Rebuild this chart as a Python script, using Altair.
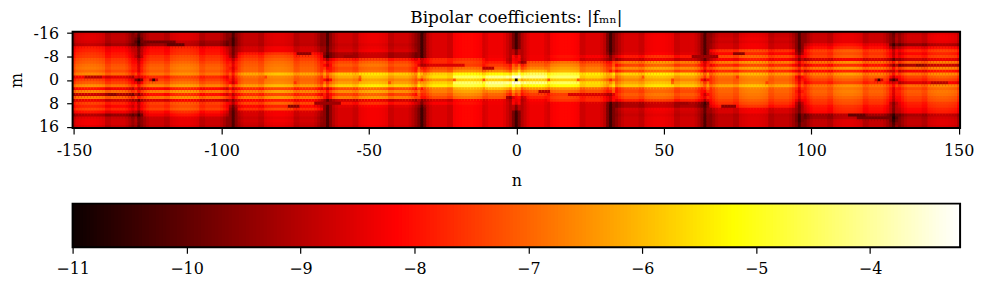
import altair as alt
import numpy as np
import pandas as pd

M = list(range(-16, 17))
FONT = "DejaVu Serif"
VMIN, VMAX = -11.0, -3.21

# log10|f_mn| read per row (m=-16..16), per band of n on the negative side
A  = [-8.75,-8.65,-8.65,-8.75,-9.0,-8.0,-7.9,-7.7,-7.6,-7.3,-7.2,-7.0,-6.9,-7.1,-6.7,-8.3,-7.5,-7.2,-6.6,-8.1,-6.7,-8.9,-6.8,-8.5,-7.5,-7.9,-7.5,-8.1,-9.2,-8.55,-8.45,-8.45,-8.65]
B  = [-8.65,-8.65,-8.65,-9.0,-9.1,-7.9,-7.8,-7.7,-7.4,-7.3,-7.1,-6.9,-6.8,-6.9,-6.6,-7.5,-7.2,-6.9,-6.4,-7.9,-6.5,-7.8,-6.6,-8.4,-7.2,-7.4,-7.2,-7.8,-8.1,-8.55,-8.55,-8.55,-8.65]
C  = [-8.65,-8.65,-8.65,-8.65,-8.7,-8.4,-8.4,-7.7,-7.4,-7.2,-7.0,-6.9,-6.8,-6.8,-6.0,-6.7,-6.8,-6.7,-6.1,-7.5,-6.4,-7.5,-6.5,-8.0,-7.1,-7.9,-7.4,-8.4,-8.4,-8.55,-8.45,-8.55,-8.65]
D  = [-8.5,-8.5,-8.5,-8.5,-8.6,-8.5,-8.4,-8.9,-8.9,-7.6,-7.1,-6.9,-7.1,-7.0,-5.6,-6.0,-6.4,-6.1,-5.5,-7.1,-6.3,-7.2,-6.5,-8.5,-7.7,-8.3,-8.4,-8.4,-8.4,-8.4,-8.4,-8.4,-8.5]
E1 = [-8.35,-8.35,-8.35,-8.35,-8.35,-8.35,-8.35,-8.35,-8.35,-7.5,-7.5,-8.2,-7.0,-6.8,-5.5,-5.4,-6.2,-5.5,-5.2,-6.5,-6.5,-6.8,-7.1,-8.4,-8.0,-8.35,-8.35,-8.35,-8.35,-8.35,-8.35,-8.35,-8.35]
E2 = [-8.25,-8.25,-8.25,-8.25,-8.25,-8.25,-8.25,-8.25,-8.25,-7.7,-7.5,-7.6,-7.0,-6.6,-5.3,-4.6,-5.9,-4.5,-4.9,-6.2,-6.4,-6.7,-7.0,-8.2,-8.1,-8.25,-8.25,-8.25,-8.25,-8.25,-8.25,-8.25,-8.25]
E3 = [-8.15,-8.15,-8.15,-8.15,-8.15,-8.15,-8.15,-8.15,-8.1,-8.0,-7.6,-7.3,-6.9,-6.3,-5.0,-3.9,-5.6,-3.8,-4.3,-5.8,-6.4,-6.8,-7.0,-8.1,-8.1,-8.15,-8.15,-8.15,-8.15,-8.15,-8.15,-8.15,-8.15]
E4 = [-8.15,-8.15,-8.15,-8.15,-8.15,-8.15,-8.15,-8.15,-8.1,-8.2,-8.0,-7.1,-6.8,-6.2,-4.7,-3.4,-5.4,-3.4,-4.2,-5.7,-6.5,-7.0,-8.6,-8.2,-8.1,-8.15,-8.15,-8.15,-8.15,-8.15,-8.15,-8.15,-8.15]

# the dark columns at n = -128, -96, -64, -32, 0
L128 = [-10.0,-10.2,-10.5,-10.8,-10.6,-9.6,-9.6,-9.5,-9.6,-9.0,-8.8,-8.6,-8.5,-8.6,-8.0,-8.7,-10.3,-8.9,-7.9,-8.9,-8.0,-9.6,-7.9,-10.0,-8.8,-9.0,-8.8,-9.6,-10.5,-9.8,-9.7,-9.8,-10.0]
L96  = [-10.2,-10.2,-10.4,-10.4,-10.4,-9.8,-9.8,-9.8,-9.6,-9.0,-8.6,-8.4,-8.6,-8.4,-7.8,-8.4,-8.6,-8.8,-7.5,-8.8,-7.8,-9.0,-8.4,-9.6,-9.0,-9.8,-10.0,-10.2,-10.2,-10.2,-10.2,-10.2,-10.2]
L64  = [-10.2,-10.2,-10.2,-10.2,-10.2,-10.0,-10.0,-10.2,-10.4,-9.2,-8.4,-8.8,-8.2,-7.8,-7.0,-7.6,-8.8,-7.6,-7.0,-8.8,-8.0,-8.6,-8.6,-10.0,-9.8,-10.2,-10.2,-10.2,-10.2,-10.2,-10.2,-10.2,-10.2]
L32  = [-10.4,-10.4,-10.4,-10.4,-10.4,-10.4,-10.4,-10.4,-10.4,-8.8,-8.8,-9.2,-7.8,-7.4,-6.0,-6.6,-7.8,-6.4,-6.0,-8.0,-7.4,-7.8,-8.0,-9.6,-9.6,-10.2,-10.4,-10.4,-10.4,-10.4,-10.4,-10.4,-10.4]
L0   = [-10.4,-10.4,-10.4,-10.4,-10.4,-10.4,-9.6,-9.6,-8.6,-8.4,-8.2,-7.6,-7.0,-6.4,-5.0,-3.5,-10.8,-3.5,-5.0,-6.4,-7.0,-7.6,-8.2,-8.4,-8.6,-9.6,-9.6,-10.4,-10.4,-10.4,-10.4,-10.4,-10.4]

# band limits on the negative side of n, inclusive, with their row lists
BANDS = [(-150, -129, A), (-128, -97, B), (-96, -65, C), (-64, -33, D), (-32, -22, E1), (-21, -11, E2), (-10, -4, E3), (-3, -1, E4)]
DARK = {-128: L128, -96: L96, -64: L64, -32: L32, 0: L0}

# brightness change across one 32-wide period, starting right after a dark column
SHADE = [0.0,-0.9,-0.6,-0.35,-0.2,-0.2,-0.2,-0.2,-0.2,-0.38,-0.38,-0.02,0.05,0.1,0.14,0.15,0.15,0.14,0.1,0.05,-0.02,-0.38,-0.38,-0.2,-0.2,-0.2,-0.2,-0.2,-0.35,-0.6,-0.9,0.0]

# narrow streaks: (m, n from, n to, value)
STREAKS = [(-13,-127,-116,-9.8),(-12,-118,-113,-10.0),(0,-123,-123,-10.5),(0,-124,-124,-8.6),(0,-122,-122,-8.6),(-1,-146,-141,-9.0),(5,-138,-136,-9.5),
           (9,-77,-74,-9.5),(-9,-74,-70,-9.5),(-8,-58,-56,-9.3),(8,-68,-60,-9.3),(-5,-29,-18,-8.6),(-4,-11,-8,-9.0),(0,-1,-1,-5.6),
           (0,-53,-53,-7.4),(-1,-53,-53,-7.0),(1,-43,-43,-7.2),(0,-21,-21,-7.2),(0,-11,-11,-7.3),(1,-75,-75,-7.6),(-1,-85,-85,-7.4)]

rows = {}
for j, m in enumerate(M):
    for lo, hi, band in BANDS:
        for n in range(lo, hi + 1):
            rows[(m, n)] = band[j] + SHADE[(n + 128) % 32]
for j, m in enumerate(M):
    for centre, line in DARK.items():
        rows[(m, centre)] = line[j]
        rows[(m, centre - 1)] = min(rows[(m, centre - 1)], line[j] + 0.7)
        if centre < 0:
            rows[(m, centre + 1)] = min(rows[(m, centre + 1)], line[j] + 0.7)
for m, a, b, v in STREAKS:
    for n in range(a, b + 1):
        rows[(m, n)] = v
cells = []
for (m, n), v in rows.items():
    if n > 0:
        continue
    cells.append((m, n, v))
    if n < 0:
        cells.append((-m, -n, v))  # |f_mn| = |f_-m,-n|
df = pd.DataFrame(cells, columns=["m", "n", "v"]).sort_values(["n", "m"])
# every cell runs on under the next one drawn, so that no seam shows between cells
df["n0"], df["n1"], df["m0"], df["m1"] = df.n - .5, df.n + 1.2, df.m - .5, df.m + 1.2

def hot():
    return alt.Scale(domain=[VMIN, -8.16, -5.2, VMAX], range=["#0b0000", "#ff0000", "#ffff00", "#ffffff"], clamp=True, interpolate="rgb")

frame_df = pd.DataFrame({"f": [0]})
def frame(w, h):
    return alt.Chart(frame_df).mark_rect(fillOpacity=0, stroke="black", strokeWidth=2, opacity=1).encode(
        x=alt.value(0), x2=alt.value(w), y=alt.value(0), y2=alt.value(h))

W = 893
X_TICKS = [-150, -100, -50, 0, 50, 100, 150]
Y_TICKS = [-16, -8, 0, 8, 16]
heat_cells = alt.Chart(df).mark_rect(clip=True, opacity=1).encode(
    x=alt.X("n0:Q", scale=alt.Scale(domain=[-150.5, 150.5], nice=False, zero=False),
            axis=alt.Axis(values=X_TICKS, title="n", labelExpr="'' + datum.value", grid=False, domain=False, labelPadding=9, titlePadding=14)),
    x2="n1:Q",
    y=alt.Y("m0:Q", scale=alt.Scale(domain=[16.5, -16.5], nice=False, zero=False),
            axis=alt.Axis(values=Y_TICKS, title="m", labelExpr="'' + datum.value", grid=False, domain=False, labelPadding=8, titlePadding=9)),
    y2="m1:Q",
    color=alt.Color("v:Q", scale=hot(), legend=None),
)
heat = alt.layer(heat_cells, frame(W, 97)).properties(
    width=W, height=97,
    title=alt.TitleParams("Bipolar coefficients: |fₘₙ|", font=FONT, fontSize=17, fontWeight="normal", color="black", offset=-2))

BAR_TICKS = [-11, -10, -9, -8, -7, -6, -5, -4]
levels = np.linspace(VMIN, VMAX, 257)
bar_df = pd.DataFrame({"a": levels[:-1], "b": levels[1:] + 0.03, "v": (levels[:-1] + levels[1:]) / 2})
bar_cells = alt.Chart(bar_df).mark_rect(clip=True, opacity=1).encode(
    x=alt.X("a:Q", scale=alt.Scale(domain=[VMIN, VMAX], nice=False, zero=False),
            axis=alt.Axis(values=BAR_TICKS, title=None, labelExpr="'−' + abs(datum.value)", grid=False, domain=False, labelPadding=7, labelFlush=False)),
    x2="b:Q",
    color=alt.Color("v:Q", scale=hot(), legend=None),
)
bar = alt.layer(bar_cells, frame(W, 44)).properties(width=W, height=44)

chart = alt.vconcat(heat, bar, spacing=14, padding=0).configure_view(stroke=None).configure_axis(
    labelFont=FONT, titleFont=FONT, labelFontSize=16, titleFontSize=16, titleFontWeight="normal",
    labelColor="black", titleColor="black", tickColor="black", tickSize=6, tickWidth=1.2, labelPadding=3,
).configure_concat(spacing=14)

chart.save("out.html", embed_options={"renderer": "svg", "actions": False})
